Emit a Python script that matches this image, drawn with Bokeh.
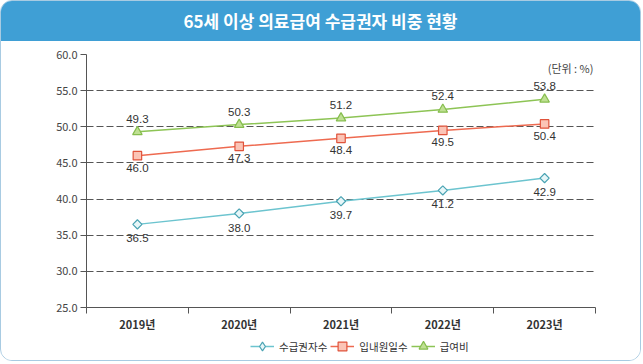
import math
from bokeh.plotting import figure
from bokeh.layouts import column
from bokeh.models import (ColumnDataSource, FixedTicker, CustomJSTickFormatter,
                          PrintfTickFormatter, Legend, LegendItem, Label, Range1d, Div)
from bokeh.core.properties import value
from bokeh.embed import file_html
from bokeh.resources import INLINE

# 65세 이상 의료급여 수급권자 비중 (단위: %)
years = ["2019년", "2020년", "2021년", "2022년", "2023년"]
recipients = [36.5, 38.0, 39.7, 41.2, 42.9]   # 수급권자수
visit_days = [46.0, 47.3, 48.4, 49.5, 50.4]   # 입내원일수
benefits = [49.3, 50.3, 51.2, 52.4, 53.8]     # 급여비
y_ticks = [25, 30, 35, 40, 45, 50, 55, 60]

KR = "Noto Sans CJK KR"
NUM = "Liberation Sans"

header = Div(text="65세 이상 의료급여 수급권자 비중 현황", width=641, height=40,
             margin=0,
             styles={"background-color": "#3f9fd5", "color": "white",
                     "font-family": KR, "font-size": "17px", "font-weight": "bold",
                     "text-align": "center", "line-height": "40px",
                     "justify-content": "center", "align-items": "center",
                     "display": "flex"})

p = figure(width=641, height=293, output_backend="svg", toolbar_location=None,
           x_range=Range1d(0, len(years)), y_range=Range1d(25, 60),
           min_border_left=85, min_border_right=45,
           min_border_top=13, min_border_bottom=25, margin=0)
p.outline_line_color = None
p.background_fill_color = "white"
p.border_fill_color = "white"

# category centres sit in the middle of each band
xs = [i + 0.5 for i in range(len(years))]

# axes
p.yaxis.ticker = FixedTicker(ticks=y_ticks, minor_ticks=[])
p.yaxis.formatter = PrintfTickFormatter(format="%.1f")
p.yaxis.axis_line_color = "#555555"
p.yaxis.major_tick_line_color = "#555555"
p.yaxis.major_tick_out = 6
p.yaxis.major_tick_in = 0
p.yaxis.major_label_text_font = KR
p.yaxis.major_label_text_font_size = "11px"
p.yaxis.major_label_text_color = "#444444"
p.yaxis.major_label_standoff = 3

p.xaxis.ticker = FixedTicker(ticks=xs, minor_ticks=list(range(len(years) + 1)))
p.xaxis.formatter = CustomJSTickFormatter(args=dict(labels=years),
                                          code="return labels[Math.floor(tick)];")
p.xaxis.axis_line_color = "#555555"
p.xaxis.major_tick_line_color = None
p.xaxis.minor_tick_line_color = "#555555"
p.xaxis.minor_tick_out = 6
p.xaxis.minor_tick_in = 0
p.xaxis.major_label_text_font = KR
p.xaxis.major_label_text_font_size = "11px"
p.xaxis.major_label_text_font_style = "bold"
p.xaxis.major_label_text_color = "#333333"
p.xaxis.major_label_standoff = 2

p.xgrid.grid_line_color = None
p.ygrid.ticker = FixedTicker(ticks=y_ticks)
p.ygrid.grid_line_color = "#555555"
p.ygrid.grid_line_dash = "7 3"
p.ygrid.grid_line_width = 1

# legend strip underneath the chart
lg = figure(width=641, height=27, output_backend="svg", toolbar_location=None,
            x_range=Range1d(-20, -10), y_range=Range1d(-20, -10),
            x_axis_location=None, y_axis_location=None, margin=0,
            min_border=0, min_border_left=0, min_border_right=0,
            min_border_top=0, min_border_bottom=0)
lg.outline_line_color = None
lg.grid.visible = False
lg.background_fill_color = "white"
lg.border_fill_color = "white"

# name, values, line colour, marker edge, marker fill, marker, size, angle, legend marker, label offset
series = [
    ("수급권자수", recipients, "#6cc4cf", "#4aa3b3", "#e6f6f8", "square", 6.5, math.pi / 4, "diamond", -14),
    ("입내원일수", visit_days, "#ee6a50", "#e0533b", "#fbc4b6", "square", 8.5, 0, "square", -12),
    ("급여비", benefits, "#8dc455", "#86bd4e", "#bfe093", "triangle", 9.5, 0, "triangle", 13),
]

items = []
for name, vals, line_c, edge_c, fill_c, marker, size, ang, lg_marker, off in series:
    src = ColumnDataSource(dict(x=xs, y=vals, t=[f"{v:.1f}" for v in vals]))
    p.line("x", "y", source=src, line_color=line_c, line_width=1.5)
    p.scatter("x", "y", source=src, marker=marker, size=size, angle=ang,
              line_color=edge_c, fill_color=fill_c, line_width=1.2)
    p.text("x", "y", text="t", source=src, y_offset=-off,
           text_align="center", text_baseline="middle",
           text_font=value(NUM), text_font_size="11.5px", text_color="#333333")
    # same series in the legend strip (its ranges keep the marks out of view)
    ln = lg.line("x", "y", source=src, line_color=line_c, line_width=1.5)
    sc = lg.scatter("x", "y", source=src, marker=lg_marker, size=size,
                    line_color=edge_c, fill_color=fill_c, line_width=1.2)
    items.append(LegendItem(label=name, renderers=[ln, sc]))

legend = Legend(items=items, orientation="horizontal", location=(164, 4),
                padding=0, margin=0, spacing=3, label_standoff=5,
                glyph_width=24, glyph_height=22, label_height=22,
                border_line_color=None, background_fill_alpha=0,
                label_text_font=KR, label_text_font_size="10.5px",
                label_text_color="#333333")
lg.add_layout(legend, "center")

# unit note
p.add_layout(Label(x=4.98, y=58.2, text="(단위 : %)",
                   text_align="right", text_baseline="middle",
                   text_font=KR, text_font_size="11px", text_color="#444444"))

page = column(header, p, lg, width=641, height=361,
              styles={"border": "1px solid #a8cbe2", "border-radius": "12px",
                      "overflow": "hidden", "background-color": "white"})

open("out.html", "w").write(file_html(page, INLINE))
